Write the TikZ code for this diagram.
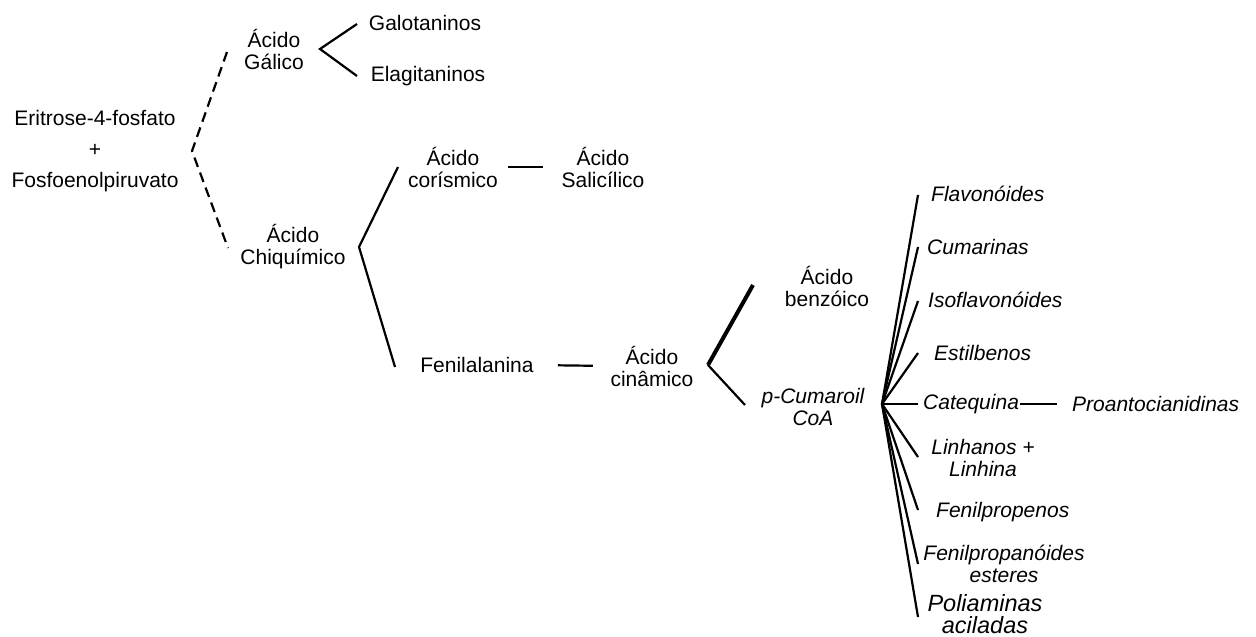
\documentclass[tikz,border=0pt]{standalone}
\usepackage{fontspec}
\setmainfont{Liberation Sans}
\begin{document}
\begin{tikzpicture}[x=1pt,y=-1pt,
  lbl/.style={font=\fontsize{21}{22}\selectfont, align=center, inner sep=0pt},
  itl/.style={font=\fontsize{21}{22}\selectfont\itshape, align=center, inner sep=0pt},
  con/.style={line width=2.2pt},
  dashcon/.style={line width=2.2pt, dash pattern=on 10pt off 6pt}]
\useasboundingbox (0,0) rectangle (1256,637);

% nodes
\node[lbl, font=\fontsize{21}{31}\selectfont] (ef) at (95,151) {Eritrose-4-fosfato\\+\\Fosfoenolpiruvato};
\node[lbl] (gal) at (274,49) {Ácido\\Gálico};
\node[lbl] (galo) at (425,23) {Galotaninos};
\node[lbl] (ela) at (428,76) {Elagitaninos};
\node[lbl] (chiq) at (293,247) {Ácido\\Chiquímico};
\node[lbl] (cor) at (453,167) {Ácido\\corísmico};
\node[lbl] (sal) at (603,167) {Ácido\\Salicílico};
\node[lbl] (fen) at (477,365) {Fenilalanina};
\node[lbl] (cin) at (652,366) {Ácido\\cinâmico};
\node[lbl] (benz) at (827,286) {Ácido\\benzóico};
\node[itl] (cuma) at (813,407) {p-Cumaroil\\CoA};

\node[itl, anchor=west] (flav) at (931,194) {Flavonóides};
\node[itl, anchor=west] (cumar) at (927,247) {Cumarinas};
\node[itl, anchor=west] (iso) at (928,300) {Isoflavonóides};
\node[itl, anchor=west] (estil) at (934,353) {Estilbenos};
\node[itl, anchor=west] (cat) at (923,404) {Catequina};
\node[itl, anchor=west] (pro) at (1072,404) {Proantocianidinas};
\node[itl] (linh) at (983,458) {Linhanos +\\Linhina};
\node[itl, anchor=west] (fpr) at (936,512) {Fenilpropenos};
\node[itl] (fpe) at (1004,564) {Fenilpropanóides\\esteres};
\node[itl, font=\fontsize{23.5}{22}\selectfont\itshape] (poli) at (985,614) {Poliaminas\\aciladas};

% bracket coordinates
\coordinate (d1) at (227,52);
\coordinate (dv) at (192,151);
\coordinate (d2) at (228,248);
\coordinate (g1) at (357,24);
\coordinate (gv) at (320,49);
\coordinate (g2) at (357,76);
\coordinate (c1) at (398,167);
\coordinate (cv) at (359,247);
\coordinate (c2) at (395,367);
\coordinate (b1) at (753,285);
\coordinate (bv) at (708,365);
\coordinate (b2) at (745,405);
\coordinate (fan) at (882,404);
\coordinate (e1) at (918,195);
\coordinate (e2) at (918,247);
\coordinate (e3) at (918,301);
\coordinate (e4) at (918,353);
\coordinate (e5) at (918,404);
\coordinate (e6) at (918,457);
\coordinate (e7) at (918,510);
\coordinate (e8) at (918,564);
\coordinate (e9) at (918,617);

% connectors
\draw[dashcon] (d1) -- (dv) -- (d2);
\draw[con] (g1) -- (gv) -- (g2);
\draw[con] (c1) -- (cv) -- (c2);
\draw[con, line width=4pt] (b1) -- (bv);
\draw[con] (bv) -- (b2);
\draw[con, shorten <=10pt, shorten >=18.5pt] (cor.east) -- (sal.west);
\draw[con, shorten <=24pt, shorten >=17.5pt] (fen.east) -- (cin.west);
\draw[con, shorten <=1pt, shorten >=15pt] (cat.east) -- (pro.west);
\foreach \e in {e1,e2,e3,e4,e5,e6,e7,e8,e9}
  \draw[con] (fan) -- (\e);
\end{tikzpicture}
\end{document}
